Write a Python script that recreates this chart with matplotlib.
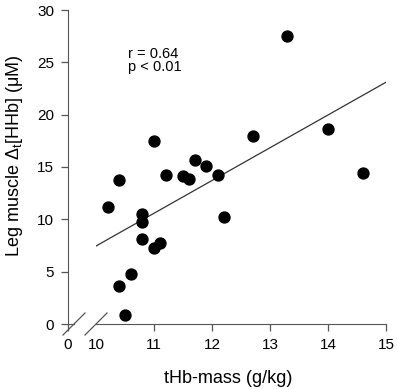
import matplotlib
matplotlib.use("Agg")
import matplotlib.pyplot as plt
from matplotlib.lines import Line2D

plt.rcParams["font.family"] = ["Liberation Sans", "DejaVu Sans"]
plt.rcParams["mathtext.fontset"] = "custom"
plt.rcParams["mathtext.rm"] = "Liberation Sans"

# tHb-mass (g/kg) vs leg muscle delta HHb (uM)
thb_mass = [10.2, 10.4, 10.4, 10.5, 10.6, 10.8, 10.8, 10.8, 11.0, 11.0,
            11.1, 11.2, 11.5, 11.6, 11.7, 11.9, 12.1, 12.2, 12.7, 13.3, 14.0, 14.6]
delta_hhb = [11.2, 13.8, 3.6, 0.9, 4.8, 10.5, 9.7, 8.1, 17.5, 7.3,
             7.7, 14.2, 14.1, 13.9, 15.7, 15.1, 14.2, 10.2, 18.0, 27.5, 18.6, 14.4]

fit_x = [10.0, 15.0]
fit_y = [7.45, 23.1]

W, H = 397, 389
fig = plt.figure(figsize=(W / 100, H / 100), dpi=100)

ax0 = fig.add_axes([68 / W, 1 - 324 / H, 6 / W, 314 / H])
ax = fig.add_axes([96 / W, 1 - 324 / H, 290 / W, 314 / H])

axis_col = "#555555"
for a in (ax0, ax):
    for s in ("top", "right"):
        a.spines[s].set_visible(False)
    a.spines["bottom"].set_color(axis_col)
    a.spines["left"].set_color(axis_col)
    a.tick_params(colors=axis_col, labelcolor="black", labelsize=11,
                  length=5, width=0.9, pad=5)
    a.set_ylim(0, 30)
    a.patch.set_alpha(0)

ax0.set_xlim(0, 0.1)
ax0.set_xticks([0])
ax0.set_yticks([0, 5, 10, 15, 20, 25, 30])

ax.spines["left"].set_visible(False)
ax.tick_params(axis="y", left=False, labelleft=False)
ax.set_xlim(10, 15)
ax.set_xticks([11, 12, 13, 14, 15])

ax.scatter(thb_mass, delta_hhb, s=62, color="black", zorder=3, clip_on=False)
ax.plot(fit_x, fit_y, color="#333333", lw=0.9)

ax.text(10.55, 25.4, "r = 0.64", va="baseline", fontsize=10.5)
ax.text(10.55, 24.15, "p < 0.01", va="baseline", fontsize=10.5)

# "10" label under the break
fig.text(96 / W, 1 - 345 / H, "10", ha="center", va="center", fontsize=11)

# break marks
for x0 in (63, 85):
    fig.add_artist(Line2D([x0 / W, (x0 + 22) / W], [1 - 335 / H, 1 - 313 / H],
                          transform=fig.transFigure, color=axis_col, lw=0.9))

fig.text(228 / W, 1 - 383 / H, "tHb-mass (g/kg)", ha="center", va="baseline", fontsize=13)
fig.text(15 / W, 1 - 156 / H, "Leg muscle $\\Delta_\\mathrm{t}$[HHb] (\u03bcM)",
         rotation=90, ha="center", va="center", fontsize=13)

fig.savefig("out.png", dpi=100)
